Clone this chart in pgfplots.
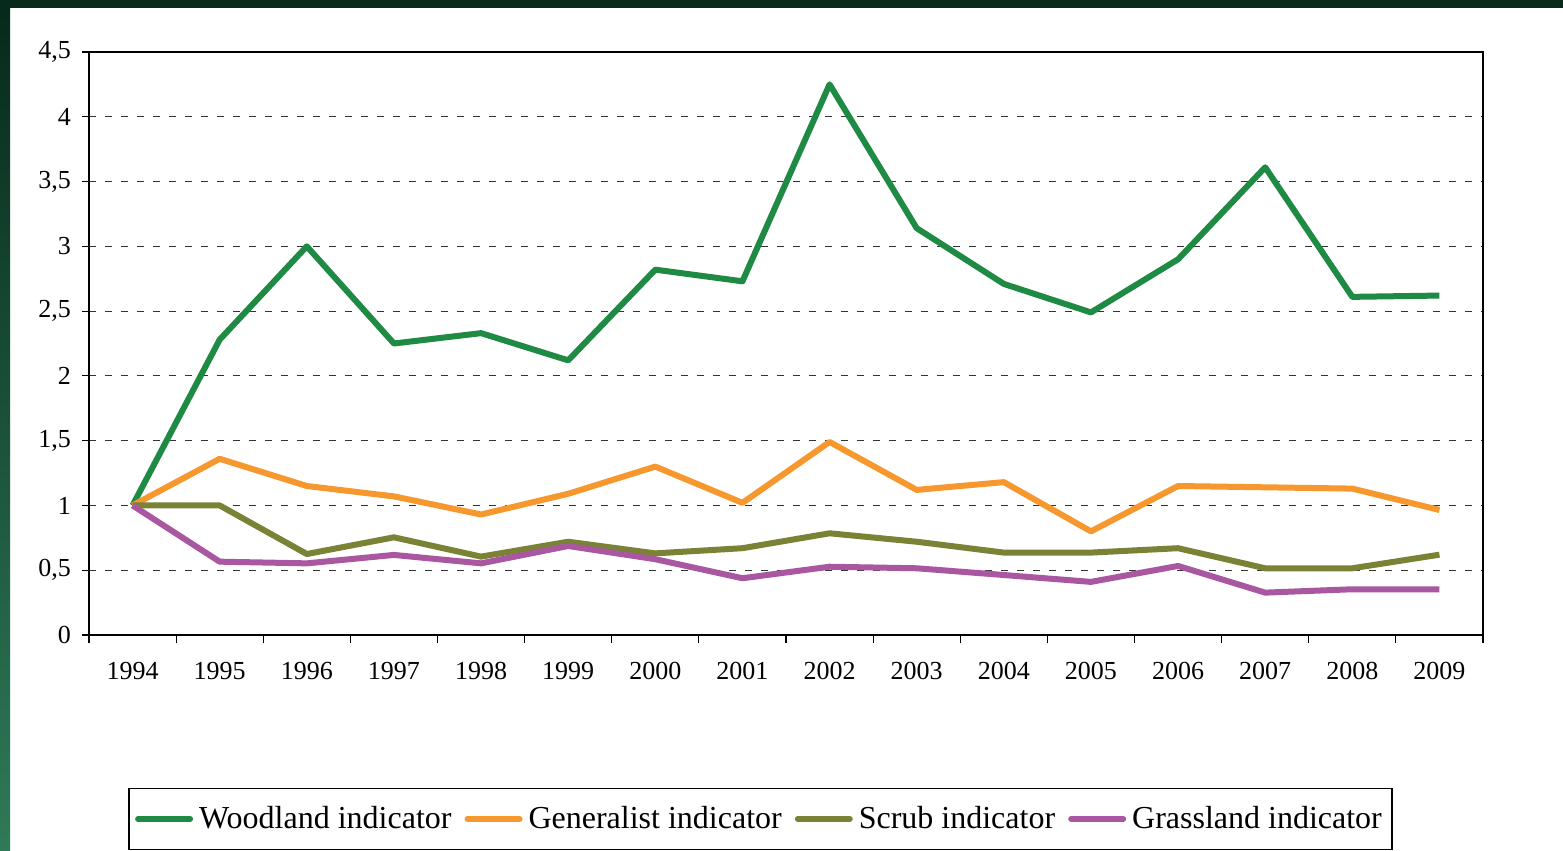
\documentclass[border=0pt]{standalone}
\usepackage{fontspec}
\setmainfont{Liberation Serif}
\usepackage{pgfplots}
\pgfplotsset{compat=1.18}
\definecolor{wood}{HTML}{1E8A43}
\definecolor{gen}{HTML}{F7982E}
\definecolor{scrub}{HTML}{7A8235}
\definecolor{grass}{HTML}{A857A0}
\definecolor{bandtop}{HTML}{072A1A}
\definecolor{bandbot}{HTML}{2F7A58}
\begin{document}
\begin{tikzpicture}
\path[use as bounding box] (0,0) rectangle (781.5pt,425.5pt);
\fill[white] (0,0) rectangle (781.5pt,425.5pt);
\fill[bandtop] (0,421.5pt) rectangle (781.5pt,425.5pt);
\shade[top color=bandtop, bottom color=bandbot] (0,0) rectangle (5pt,421.5pt);
\begin{axis}[
  at={(44.5pt,108pt)}, anchor=south west,
  scale only axis, width=697pt, height=291.5pt,
  xmin=-0.5, xmax=15.5, ymin=0, ymax=4.5,
  xtick={0,...,15},
  xticklabels={1994,1995,1996,1997,1998,1999,2000,2001,2002,2003,2004,2005,2006,2007,2008,2009},
  minor xtick={-0.5,0.5,...,15.5},
  ytick={0,0.5,...,4.5},
  yticklabels={0,{0,5},1,{1,5},2,{2,5},3,{3,5},4,{4,5}},
  tick pos=left, tick align=outside,
  major tick length=3.5pt, minor tick length=4pt,
  x tick style={draw=none},
  minor x tick style={draw=black, line width=0.6pt},
  y tick style={black, line width=0.6pt},
  axis line style={line width=1.2pt, black},
  ymajorgrids, major grid style={black!80, line width=0.5pt, dash pattern=on 3.5pt off 4.5pt},
  ticklabel style={font=\fontsize{13}{15}\selectfont},
  xticklabel style={yshift=-6.5pt},
  yticklabel style={xshift=-2pt},
  /pgf/number format/assume math mode=true,
  legend style={at={(0.4817,-0.3156)}, anchor=center, draw=black, line width=0.6pt,
    font=\fontsize{16}{19}\selectfont, inner xsep=3pt, inner ysep=7pt,
    /tikz/every even column/.append style={column sep=4.5pt},
    /tikz/every odd column/.append style={column sep=1pt}},
  legend columns=4,
  legend cell align=left,
  legend image code/.code={\draw[#1, line cap=round] (0pt,0pt) -- (26pt,0pt);},
  every axis plot/.append style={line width=3pt, line join=round},
]
\addplot[wood] coordinates {(0,1) (1,2.28) (2,3.0) (3,2.25) (4,2.33) (5,2.12) (6,2.82) (7,2.73) (8,4.25) (9,3.14) (10,2.71) (11,2.49) (12,2.90) (13,3.61) (14,2.61) (15,2.62)};
\addlegendentry{Woodland indicator}
\addplot[gen] coordinates {(0,1) (1,1.36) (2,1.15) (3,1.07) (4,0.93) (5,1.09) (6,1.30) (7,1.02) (8,1.49) (9,1.12) (10,1.18) (11,0.80) (12,1.15) (13,1.14) (14,1.13) (15,0.965)};
\addlegendentry{Generalist indicator}
\addplot[scrub] coordinates {(0,1) (1,1.0) (2,0.625) (3,0.754) (4,0.605) (5,0.72) (6,0.63) (7,0.67) (8,0.785) (9,0.72) (10,0.636) (11,0.636) (12,0.67) (13,0.515) (14,0.515) (15,0.62)};
\addlegendentry{Scrub indicator}
\addplot[grass] coordinates {(0,1) (1,0.566) (2,0.553) (3,0.618) (4,0.553) (5,0.687) (6,0.585) (7,0.438) (8,0.527) (9,0.515) (10,0.463) (11,0.41) (12,0.533) (13,0.327) (14,0.353) (15,0.353)};
\addlegendentry{Grassland indicator}
\end{axis}
\end{tikzpicture}
\end{document}
